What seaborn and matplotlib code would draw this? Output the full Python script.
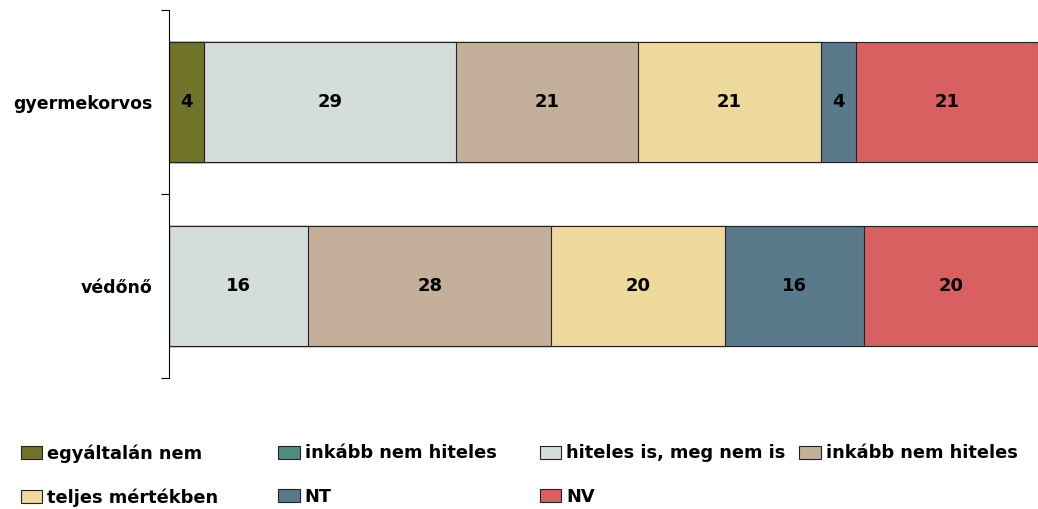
import numpy as np
import pandas as pd
import seaborn as sns
from matplotlib import pyplot as plt
from matplotlib.patches import Patch

categories = ['gyermekorvos', 'védőnő']
series = ['egyáltalán nem', 'inkább nem hiteles', 'hiteles is, meg nem is',
          'inkább nem hiteles', 'teljes mértékben', 'NT', 'NV']
colors = ['#70732A', '#4E8E7E', '#D3DDDC', '#C4B09A', '#EDD99B', '#587A8A', '#D96060']
gyermekorvos = [4, 0, 29, 21, 21, 4, 21]
vedono = [0, 0, 16, 28, 20, 16, 20]

sns.set_style('white')
plt.rcParams['font.family'] = ['DejaVu Sans']
plt.rcParams['text.color'] = 'black'
plt.rcParams['ytick.color'] = 'black'

values = np.array([gyermekorvos, vedono])
cum = values.cumsum(axis=1)

fig = plt.figure(figsize=(10.38, 5.09), dpi=100)
ax = fig.add_axes([0.163, 0.257, 0.837, 0.723])

# draw cumulative totals from longest to shortest so each segment shows
for i in reversed(range(len(series))):
    df = pd.DataFrame({'cat': categories, 'val': cum[:, i]})
    sns.barplot(data=df, x='val', y='cat', orient='h', color=colors[i],
                width=0.65, edgecolor='#222222', linewidth=0.8,
                saturation=1, ax=ax)

for r in range(len(categories)):
    for i in range(len(series)):
        v = values[r, i]
        if v == 0:
            continue
        ax.text(cum[r, i] - v / 2, r, str(v), ha='center', va='center',
                fontsize=13, fontweight='bold', color='black')

ax.set_xlim(0, 100)
ax.set_ylim(1.5, -0.5)
ax.set_xlabel('')
ax.set_ylabel('')
ax.set_xticks([])
for s in ['top', 'right', 'bottom']:
    ax.spines[s].set_visible(False)
ax.spines['left'].set_color('black')
ax.spines['left'].set_linewidth(0.8)
ax.set_yticks([0, 1])
ax.set_yticklabels(categories, fontsize=12.5, fontweight='bold', color='black')
ax.set_yticks([-0.5, 0.5, 1.5], minor=True)
ax.tick_params(axis='y', which='major', length=0, pad=12)
ax.tick_params(axis='y', which='minor', length=6, width=0.8, color='black', left=True)

# legend laid out row by row in four columns
col_x = [0.02, 0.268, 0.52, 0.77]
rows = [[0, 4], [1, 5], [2, 6], [3]]
for cx, idx in zip(col_x, rows):
    handles = [Patch(facecolor=colors[j], edgecolor='#222222', linewidth=0.8) for j in idx]
    fig.legend(handles, [series[j] for j in idx], loc='upper left',
               bbox_to_anchor=(cx, 0.127), frameon=False,
               prop={'weight': 'bold', 'size': 12.8}, handlelength=1.2,
               handleheight=0.75, handletextpad=0.3, labelspacing=1.45,
               borderaxespad=0, borderpad=0, labelcolor='black')

fig.savefig('out.png', dpi=100)
